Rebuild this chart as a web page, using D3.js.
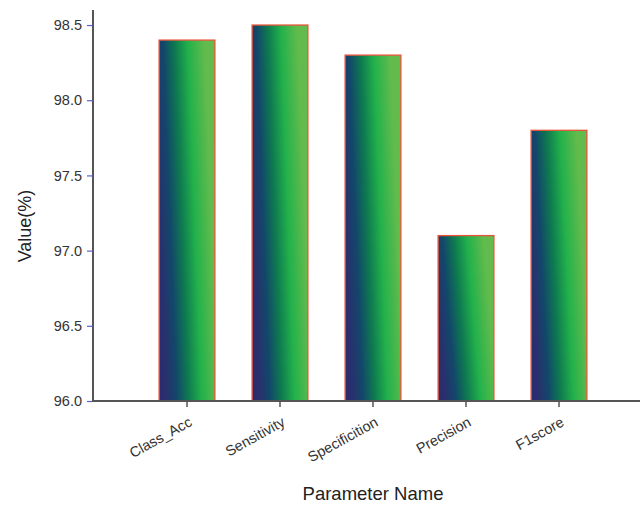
<!DOCTYPE html>
<html>
<head>
<meta charset="utf-8">
<script src="https://cdn.jsdelivr.net/npm/d3@7"></script>
<style>
  html, body { margin: 0; padding: 0; background: #fff; }
  svg { display: block; }
</style>
</head>
<body>
<svg id="chart" width="640" height="506"></svg>
<script>
const categories = ["Class_Acc", "Sensitivity", "Specificition", "Precision", "F1score"];
const values = [98.4, 98.5, 98.3, 97.1, 97.8];
const yTicks = [96.0, 96.5, 97.0, 97.5, 98.0, 98.5];

const svg = d3.select("#chart");
const font = "'Liberation Sans', Arial, sans-serif";

const x = d3.scaleBand().domain(categories).range([140.5, 605.5]).paddingInner(0.4).paddingOuter(0.2);
const y = d3.scaleLinear().domain([96, 98.6]).range([401, 10]);

const defs = svg.append("defs");
const grad = defs.append("linearGradient")
  .attr("id", "barGrad")
  .attr("x1", 0).attr("y1", 1).attr("x2", 1).attr("y2", 0.75);
[[0, "#2b2a6e"], [0.12, "#2a2f6e"], [0.3, "#12476a"], [0.5, "#0e7a50"], [0.72, "#22b14b"], [1, "#62bb4c"]]
  .forEach(([o, c]) => grad.append("stop").attr("offset", o).attr("stop-color", c));

// bars
svg.append("g").selectAll("rect").data(categories).join("rect")
  .attr("x", d => x(d))
  .attr("width", x.bandwidth())
  .attr("y", (d, i) => y(values[i]))
  .attr("height", (d, i) => y(96) - y(values[i]))
  .attr("fill", "url(#barGrad)")
  .attr("stroke", "#e8553a")
  .attr("stroke-width", 1.3);

// y axis
const yAxis = svg.append("g").attr("transform", "translate(93,0)")
  .call(d3.axisLeft(y).tickValues(yTicks).tickFormat(d3.format(".1f")).tickSize(6).tickPadding(5));
yAxis.select(".domain").attr("stroke", "#555").attr("stroke-width", 2).attr("d", "M0,10V401");
yAxis.selectAll(".tick line").attr("stroke", "#5b5fc7").attr("stroke-width", 1.2);
yAxis.selectAll(".tick text").attr("font-family", font).attr("font-size", 14.5).attr("fill", "#333");

// x axis
const xAxis = svg.append("g").attr("transform", "translate(0,401)")
  .call(d3.axisBottom(x).tickSize(6).tickSizeOuter(0));
xAxis.select(".domain").attr("stroke", "#555").attr("stroke-width", 2).attr("d", "M92,0H640");
xAxis.selectAll(".tick line").attr("stroke", "#555").attr("stroke-width", 1.5);
xAxis.selectAll(".tick text")
  .attr("font-family", font).attr("font-size", 14.5).attr("fill", "#333")
  .attr("text-anchor", "end")
  .attr("dy", null).attr("y", null)
  .attr("transform", "translate(6,24) rotate(-29)");

// titles
svg.append("text")
  .attr("transform", "translate(31,226) rotate(-90)")
  .attr("text-anchor", "middle")
  .attr("font-family", font).attr("font-size", 18).attr("fill", "#222")
  .text("Value(%)");
svg.append("text")
  .attr("x", 373).attr("y", 500)
  .attr("text-anchor", "middle")
  .attr("font-family", font).attr("font-size", 18.5).attr("fill", "#222")
  .text("Parameter Name");
</script>
</body>
</html>
